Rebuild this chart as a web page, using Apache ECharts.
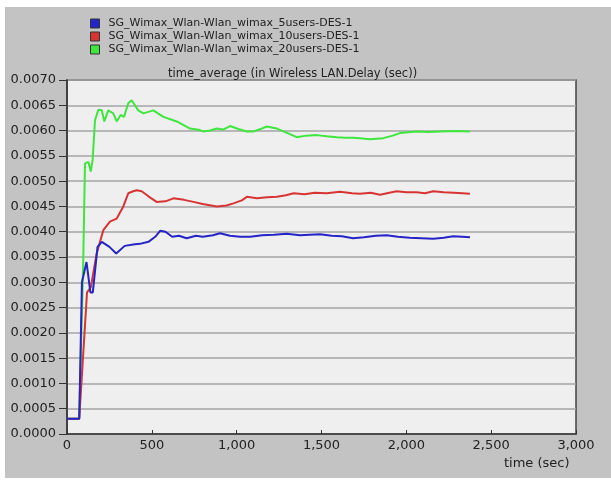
<!DOCTYPE html>
<html>
<head>
<meta charset="utf-8">
<script src="https://cdn.jsdelivr.net/npm/echarts@6/dist/echarts.min.js"></script>
<style>
  html, body { margin: 0; padding: 0; background: #ffffff; }
  #chart { width: 611px; height: 481px; }
</style>
</head>
<body>
<div id="chart"></div>
<script>
// Simulation run names
const seriesNames = [
  'SG_Wimax_Wlan-Wlan_wimax_5users-DES-1',
  'SG_Wimax_Wlan-Wlan_wimax_10users-DES-1',
  'SG_Wimax_Wlan-Wlan_wimax_20users-DES-1'
];

// 5 users: time (sec) and time-averaged WLAN delay (sec)
const t5 = [0, 72, 88, 115, 125, 138, 152, 180, 205, 250, 290, 340, 400, 430, 480, 520, 550, 580, 620, 660, 705, 760, 800, 860, 902, 960, 1020, 1080, 1150, 1220, 1295, 1373, 1430, 1491, 1560, 1620, 1686, 1750, 1820, 1884, 1950, 2020, 2090, 2159, 2220, 2276, 2330, 2375];
const d5 = [0.0003, 0.0003, 0.0030, 0.0034, 0.0034, 0.0028, 0.0028, 0.0037, 0.0038, 0.0037, 0.00357, 0.00372, 0.00375, 0.00376, 0.0038, 0.0039, 0.00402, 0.0040, 0.0039, 0.00392, 0.00387, 0.00392, 0.0039, 0.00393, 0.00397, 0.00392, 0.0039, 0.0039, 0.00393, 0.00394, 0.00396, 0.00393, 0.00394, 0.00395, 0.00392, 0.00391, 0.00387, 0.00389, 0.00392, 0.00393, 0.0039, 0.00388, 0.00387, 0.00386, 0.00388, 0.00391, 0.0039, 0.00389];

// 10 users
const t10 = [0, 72, 118, 140, 175, 214, 253, 293, 332, 361, 390, 411, 440, 480, 528, 580, 627, 690, 745, 800, 883, 940, 981, 1030, 1060, 1120, 1180, 1237, 1290, 1336, 1400, 1460, 1530, 1609, 1680, 1727, 1790, 1845, 1900, 1943, 2000, 2060, 2110, 2159, 2220, 2280, 2330, 2375];
const d10 = [0.0003, 0.0003, 0.0028, 0.0029, 0.00357, 0.00403, 0.0042, 0.00426, 0.0045, 0.00476, 0.0048, 0.00482, 0.0048, 0.0047, 0.00459, 0.0046, 0.00466, 0.00463, 0.00459, 0.00455, 0.0045, 0.00452, 0.00456, 0.00462, 0.00469, 0.00466, 0.00468, 0.00469, 0.00472, 0.00476, 0.00474, 0.00477, 0.00476, 0.00479, 0.00476, 0.00475, 0.00477, 0.00473, 0.00477, 0.0048, 0.00478, 0.00478, 0.00476, 0.0048, 0.00478, 0.00477, 0.00476, 0.00475];

// 20 users
const t20 = [0, 72, 95, 106, 126, 140, 151, 165, 185, 205, 220, 243, 273, 293, 316, 336, 361, 381, 391, 420, 450, 509, 568, 647, 725, 784, 804, 843, 883, 920, 961, 1010, 1060, 1098, 1140, 1177, 1237, 1300, 1354, 1410, 1472, 1530, 1590, 1640, 1686, 1727, 1786, 1864, 1920, 1963, 2061, 2130, 2199, 2290, 2375];
const d20 = [0.0003, 0.0003, 0.0033, 0.00535, 0.00538, 0.00519, 0.00542, 0.00621, 0.00641, 0.0064, 0.00618, 0.0064, 0.00634, 0.00618, 0.00631, 0.00627, 0.00654, 0.0066, 0.00657, 0.0064, 0.00634, 0.0064, 0.00627, 0.00618, 0.00604, 0.00601, 0.00598, 0.006, 0.00604, 0.00602, 0.00609, 0.00603, 0.00598, 0.00598, 0.00603, 0.00608, 0.00604, 0.00595, 0.00587, 0.0059, 0.00591, 0.00589, 0.00587, 0.00586, 0.00586, 0.00585, 0.00583, 0.00585, 0.0059, 0.00595, 0.00598, 0.00597, 0.00598, 0.00599, 0.00598];

const colors = ['#2424c8', '#d83434', '#3ee63e'];

const zip = (t, d) => t.map((x, i) => [x, d[i]]);

const chart = echarts.init(document.getElementById('chart'), null, { renderer: 'canvas' });
const font = '"DejaVu Sans", Verdana, sans-serif';

chart.setOption({
  backgroundColor: '#ffffff',
  animation: false,
  graphic: [
    { type: 'rect', z: -10, silent: true,
      shape: { x: 5, y: 7, width: 606, height: 471 },
      style: { fill: '#c3c3c3' } },
    { type: 'text', left: 504, top: 457, z: 10,
      style: { text: 'time (sec)', font: '13px ' + font, fill: '#222' } }
  ],
  title: {
    text: 'time_average (in Wireless LAN.Delay (sec))',
    left: 163, top: 63,
    textStyle: { fontSize: 11.5, fontWeight: 'normal', color: '#222', fontFamily: font }
  },
  legend: {
    orient: 'vertical',
    left: 85, top: 13,
    icon: 'rect',
    itemWidth: 9, itemHeight: 9, itemGap: 2,
    itemStyle: { borderColor: '#333', borderWidth: 1 },
    textStyle: { fontSize: 11, color: '#222', fontFamily: font, padding: [0, 0, 0, 4] },
    data: seriesNames
  },
  grid: {
    left: 67, right: 35, top: 80, bottom: 47,
    show: true, backgroundColor: '#efefef',
    borderColor: '#444', borderWidth: 1.5
  },
  xAxis: {
    type: 'value', min: 0, max: 3000, interval: 500,
    axisLine: { lineStyle: { color: '#333', width: 1.5 } },
    axisTick: { inside: true, length: 4, lineStyle: { color: '#333' } },
    splitLine: { show: false },
    axisLabel: {
      color: '#222', fontSize: 13, fontFamily: font, margin: 5,
      formatter: v => v.toLocaleString('en-US')
    }
  },
  yAxis: {
    type: 'value', min: 0, max: 0.007, interval: 0.0005,
    axisLine: { show: true, lineStyle: { color: '#333', width: 1.5 } },
    axisTick: { show: true, length: 8, lineStyle: { color: '#333' } },
    splitLine: { lineStyle: { color: '#a4a4a4', width: 1.5 } },
    axisLabel: {
      color: '#222', fontSize: 13, fontFamily: font, margin: 11,
      formatter: v => v.toFixed(4)
    }
  },
  series: [
    { name: seriesNames[0], type: 'line', data: zip(t5, d5), z: 5 },
    { name: seriesNames[1], type: 'line', data: zip(t10, d10), z: 4 },
    { name: seriesNames[2], type: 'line', data: zip(t20, d20), z: 3 }
  ].map((s, i) => Object.assign(s, {
    showSymbol: false, symbol: 'none',
    color: colors[i],
    lineStyle: { color: colors[i], width: 2 }
  }))
});
</script>
</body>
</html>
